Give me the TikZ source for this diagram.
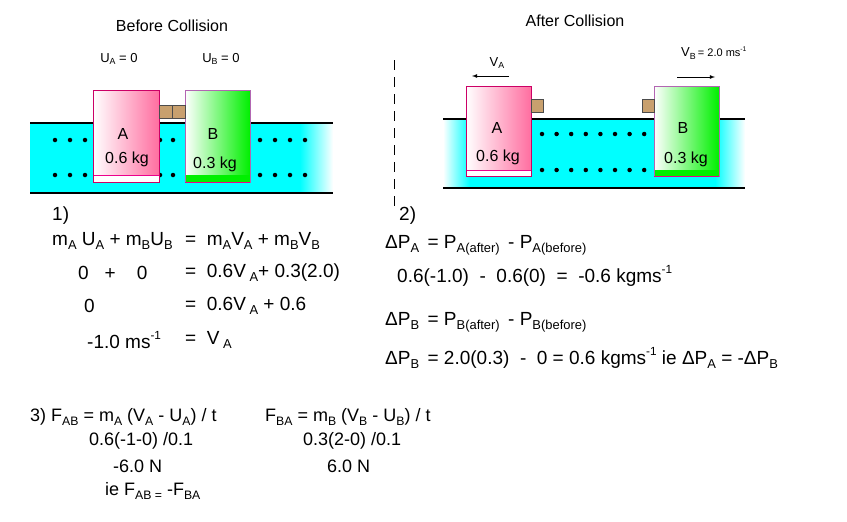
\documentclass[tikz,border=0pt]{standalone}
\usepackage{fontspec}
\setmainfont{Liberation Sans}
\makeatletter
\newcommand\lo[1]{\raisebox{-.4ex}{\fontsize{\the\dimexpr\f@size pt*68/100\relax}{1}\selectfont #1}}
\newcommand\hi[1]{\raisebox{.9ex}{\fontsize{\the\dimexpr\f@size pt*62/100\relax}{1}\selectfont #1}}
\makeatother
\definecolor{cy}{RGB}{0,255,255}
\definecolor{pk}{RGB}{255,110,160}
\definecolor{gr}{RGB}{0,240,0}
\definecolor{br}{RGB}{200,160,110}
\begin{document}
\begin{tikzpicture}[x=1pt,y=-1pt,
  eq/.style={anchor=west,font=\fontsize{19}{22}\selectfont,inner sep=0},
  eqs/.style={anchor=west,font=\fontsize{18}{21}\selectfont,inner sep=0},
  lab/.style={font=\fontsize{16}{18}\selectfont,inner sep=0},
  sml/.style={font=\fontsize{13}{15}\selectfont,inner sep=0},
  dot/.style={circle,fill=black,inner sep=0,minimum size=4.5pt},
  sq/.style={fill=br,draw=black!70,line width=.8pt}]
\useasboundingbox (0,0) rectangle (847,522);
% ---------- left diagram
\node[lab] (t1) at (172,26) {Before Collision};
\fill[cy] (30,123) rectangle (300,193);
\shade[left color=cy,right color=white] (300,123) rectangle (333,193);
\draw[line width=1.3pt] (30,123) -- (333,123) (30,193) -- (333,193);
\foreach \y in {140,175}{\foreach \x in {55,70,85,160,173,260,275,290,305}{\node[dot] at (\x,\y){};}}
\shade[left color=white,right color=pk] (93,90) rectangle (159,182);
\fill[white] (93,175) rectangle (159,182);
\draw[magenta,line width=.8pt] (93,175) -- (159,175);
\draw[draw=purple!80!magenta,line width=.8pt] (93,90) rectangle (159,182);
\shade[left color=white,right color=gr] (185,90) rectangle (250,182);
\fill[gr] (185,175) rectangle (250,182);
\draw[draw=violet!60,line width=.8pt] (185,90) rectangle (250,182);
\draw[magenta,line width=.8pt] (185,182) -- (250,182);
\draw[sq] (159,105) rectangle (172,118);
\draw[sq] (172,105) rectangle (185,118);
\node[lab] (a1) at (123,134) {A};
\node[lab] (ma1) at (127,159) {0.6 kg};
\node[lab] (b1) at (213,134) {B};
\node[lab] (mb1) at (215,164) {0.3 kg};
\node[sml] (ua) at (119,59) {U\lo{A} = 0};
\node[sml] (ub) at (221,59) {U\lo{B} = 0};
% ---------- dashed
\coordinate (d1) at (394,60); \coordinate (d2) at (394,207);
\draw[dash pattern=on 10pt off 7pt,line width=.8pt] (d1) -- (d2);
% ---------- right diagram
\node[lab] (t2) at (575,21) {After Collision};
\shade[left color=white,right color=cy] (443,119) rectangle (470,188);
\fill[cy] (470,119) rectangle (715,188);
\shade[left color=cy,right color=white] (715,119) rectangle (745,188);
\draw[line width=1.3pt] (443,119) -- (745,119) (443,188) -- (745,188);
\foreach \y in {134,170}{\foreach \i in {0,...,7}{\node[dot] at (542+\i*14.6,\y){};}}
\shade[left color=white,right color=pk] (466,86) rectangle (531,176);
\fill[white] (466,170) rectangle (531,176);
\draw[magenta,line width=.8pt] (466,170) -- (531,170);
\draw[draw=purple!80!magenta,line width=.8pt] (466,86) rectangle (531,176);
\shade[left color=white,right color=gr] (654,86) rectangle (719,176);
\fill[gr] (654,170) rectangle (719,176);
\draw[draw=violet!60,line width=.8pt] (654,86) rectangle (719,176);
\draw[magenta,line width=.8pt] (654,176) -- (719,176);
\draw[sq] (531,99) rectangle (543,112);
\draw[sq] (642,99) rectangle (654,112);
\node[lab] (a2) at (497,128) {A};
\node[lab] (ma2) at (498,157) {0.6 kg};
\node[lab] (b2) at (683,128) {B};
\node[lab] (mb2) at (686,159) {0.3 kg};
\node[sml] (va) at (497,63) {V\lo{A}};
\coordinate (va1) at (509,76); \coordinate (va2) at (472,76);
\draw[-latex,line width=.8pt] (va1) -- (va2);
\node[sml,anchor=west] (vb) at (681,53) {V\lo{B}\,{\fontsize{11}{11}\selectfont = 2.0 ms\hi{-1}}};
\coordinate (vb1) at (677,77); \coordinate (vb2) at (715,77);
\draw[-latex,line width=.8pt] (vb1) -- (vb2);
% ---------- equations 1
\node[eq] (n1) at (52,216) {1)};
\node[eq] (l1) at (52,241) {m\lo{A} U\lo{A} + m\lo{B}U\lo{B}};
\node[eq] (r1) at (185,241) {=\ \ m\lo{A}V\lo{A} + m\lo{B}V\lo{B}};
\node[eq] (l2) at (78,273) {0\ \ \ +\ \ \ \ 0};
\node[eq] (r2) at (185,273) {=\ \ 0.6V\lo{ A}+ 0.3(2.0)};
\node[eq] (l3) at (84,306) {0};
\node[eq] (r3) at (185,306) {=\ \ 0.6V\lo{ A} + 0.6};
\node[eq] (l4) at (87,340) {-1.0 ms\hi{-1}};
\node[eq] (r4) at (185,340) {=\ \ V\lo{ A}};
% ---------- equations 2
\node[eq] (n2) at (399,216) {2)};
\node[eq] (p1) at (385,245) {ΔP\lo{A} \,= P\lo{A(after)} \,- P\lo{A(before)}};
\node[eq] (p2) at (397,276) {0.6(-1.0)\ \ -\ \ 0.6(0)\ \ =\ \ -0.6 kgms\hi{-1}};
\node[eq] (p3) at (385,322) {ΔP\lo{B} \,= P\lo{B(after)} \,- P\lo{B(before)}};
\node[eq] (p4) at (385,358) {ΔP\lo{B} \,= 2.0(0.3)\ \ - \ 0 = 0.6 kgms\hi{-1} ie ΔP\lo{A} = -ΔP\lo{B}};
% ---------- equations 3
\node[eqs] (f1) at (30,417) {3) F\lo{AB} = m\lo{A} (V\lo{A} - U\lo{A}) / t};
\node[eqs] (g1) at (265,417) {F\lo{BA} = m\lo{B} (V\lo{B} - U\lo{B}) / t};
\node[eqs] (f2) at (89,441) {0.6(-1-0) /0.1};
\node[eqs] (g2) at (303,441) {0.3(2-0) /0.1};
\node[eqs] (f3) at (113,466) {-6.0 N};
\node[eqs] (g3) at (327,466) {6.0 N};
\node[eqs] (f4) at (105,491) {ie F\lo{AB =} -F\lo{BA}};
\end{tikzpicture}
\end{document}
